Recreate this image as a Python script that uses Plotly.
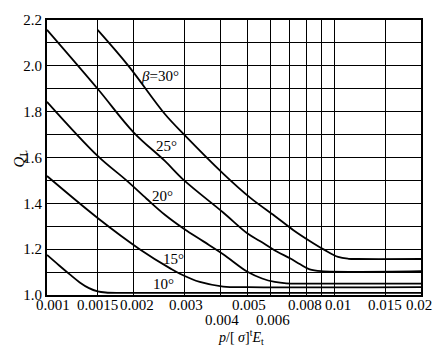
import numpy as np
import plotly.graph_objects as go

# ---- data ----
x30 = [0.0015, 0.00192, 0.00257, 0.003, 0.0041, 0.0051, 0.0062, 0.0072, 0.0082, 0.0092, 0.0103, 0.0112, 0.012, 0.02]
q30 = [2.157, 2.0, 1.79, 1.70, 1.53, 1.424, 1.345, 1.283, 1.236, 1.198, 1.166, 1.158, 1.157, 1.157]

x25 = [0.001, 0.0015, 0.002, 0.00257, 0.003, 0.0041, 0.005, 0.0055, 0.0063, 0.007, 0.0076, 0.0082, 0.009, 0.02]
q25 = [2.157, 1.90, 1.71, 1.585, 1.50, 1.36, 1.267, 1.236, 1.19, 1.16, 1.134, 1.112, 1.104, 1.104]

x20 = [0.001, 0.0015, 0.00189, 0.00222, 0.00257, 0.003, 0.0035, 0.0041, 0.005, 0.0056, 0.0062, 0.0068, 0.008, 0.02]
q20 = [1.843, 1.607, 1.50, 1.42, 1.35, 1.288, 1.234, 1.178, 1.10, 1.072, 1.057, 1.051, 1.05, 1.05]

x15 = [0.001, 0.0015, 0.0021, 0.0027, 0.0029, 0.0034, 0.0041, 0.005, 0.02]
q15 = [1.519, 1.336, 1.20, 1.114, 1.093, 1.057, 1.037, 1.034, 1.034]

x10 = [0.001, 0.0011, 0.0012, 0.0013, 0.0014, 0.0015, 0.0016, 0.0018, 0.02]
q10 = [1.175, 1.13, 1.09, 1.055, 1.03, 1.016, 1.011, 1.009, 1.009]

curve_names = ["β=30°", "25°", "20°", "15°", "10°"]
label_x = [0.00247, 0.00261, 0.00253, 0.00275, 0.00255]
label_q = [1.956, 1.651, 1.433, 1.158, 1.047]

# grid positions of the x axis
x_ticks = [0.001, 0.0015, 0.002, 0.003, 0.004, 0.005, 0.006, 0.007, 0.008, 0.009, 0.01, 0.015, 0.02]
# labelled values: upper row and lower row
x_upper_labels = ["0.001", "0.0015", "0.002", "0.003", "0.005", "0.008", "0.01", "0.015", "0.02"]
x_lower_labels = ["0.004", "0.006"]
y_ticks = [1.0, 1.2, 1.4, 1.6, 1.8, 2.0, 2.2]
y_ticktext = ["1.0", "1.2", "1.4", "1.6", "1.8", "2.0", "2.2"]

# small horizontal nudges (px) of the x labels, as in the reference
upper_shift = [6, 0, 3, 2, 1, -2, 4, 0, -2]
lower_shift = [2, 2]

serif = "Liberation Serif, Times New Roman, serif"
FS = 15

fig = go.Figure()
for xs, qs in [(x30, q30), (x25, q25), (x20, q20), (x15, q15), (x10, q10)]:
    fig.add_trace(go.Scatter(x=xs, y=qs, mode="lines",
                             line=dict(color="black", width=1.8, shape="spline", smoothing=1.0),
                             showlegend=False, hoverinfo="skip"))

for name, lx, lq in zip(curve_names, label_x, label_q):
    txt = name.replace("β", "<i>β</i>")
    fig.add_annotation(x=np.log10(lx), y=lq, xref="x", yref="y", text=txt,
                       showarrow=False, font=dict(family=serif, size=FS, color="black"))

for lab, sh in zip(x_upper_labels, upper_shift):
    fig.add_annotation(x=np.log10(float(lab)), y=-0.038, xref="x", yref="paper", text=lab,
                       showarrow=False, yanchor="middle", xshift=sh, borderpad=0,
                       font=dict(family=serif, size=FS, color="black"))
for lab, sh in zip(x_lower_labels, lower_shift):
    fig.add_annotation(x=np.log10(float(lab)), y=-0.09, xref="x", yref="paper", text=lab,
                       showarrow=False, yanchor="middle", xshift=sh, borderpad=0,
                       font=dict(family=serif, size=FS, color="black"))

fig.add_annotation(x=0.52, y=-0.152, xref="paper", yref="paper",
                   text="<i>p</i>/[ <i>σ</i>]<sup>t</sup><i>E</i><sub>t</sub>",
                   showarrow=False, yanchor="middle",
                   font=dict(family=serif, size=14, color="black"))
fig.add_annotation(x=-0.102, y=0.496, xref="paper", yref="paper",
                   text="<i>Q</i><sub>L</sub>", textangle=-90,
                   showarrow=False, font=dict(family=serif, size=15, color="black"))

fig.update_xaxes(type="log", range=[np.log10(0.001), np.log10(0.02)],
                 tickvals=x_ticks, showticklabels=False, ticks="",
                 showgrid=True, gridcolor="black", gridwidth=1.3,
                 showline=True, linecolor="black", linewidth=1.8, mirror=True,
                 zeroline=False)
fig.update_yaxes(range=[1.0, 2.2], tickvals=y_ticks, ticktext=y_ticktext, ticks="",
                 showgrid=True, gridcolor="black", gridwidth=1.3,
                 minor=dict(dtick=0.1, tick0=1.0, showgrid=True, gridcolor="black", gridwidth=1.3),
                 showline=True, linecolor="black", linewidth=1.8, mirror=True,
                 tickfont=dict(family=serif, size=FS, color="black"), zeroline=False)

fig.update_layout(width=448, height=352, margin=dict(l=47, r=27, t=15, b=57),
                  paper_bgcolor="white", plot_bgcolor="white")
fig.write_html("out.html")
